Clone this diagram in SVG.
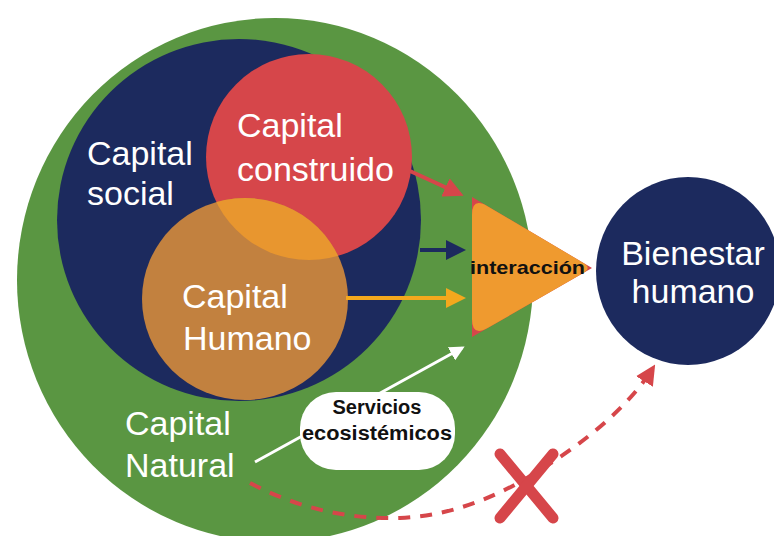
<svg xmlns="http://www.w3.org/2000/svg" width="774" height="536" viewBox="0 0 774 536">
<defs>
<style>
.lbl{font-family:"Liberation Sans",Arial,sans-serif;font-size:34px;fill:#fff}
.blk{font-family:"Liberation Sans",Arial,sans-serif;font-weight:bold;fill:#111}
</style>
<marker id="aRed" viewBox="0 0 10 10" refX="8" refY="5" markerWidth="5" markerHeight="5" orient="auto"><path d="M0,0 L10,5 L0,10 z" fill="#d6464a"/></marker>
<marker id="aNavy" viewBox="0 0 10 10" refX="8" refY="5" markerWidth="5" markerHeight="5" orient="auto"><path d="M0,0 L10,5 L0,10 z" fill="#1c2a5e"/></marker>
<marker id="aYel" viewBox="0 0 10 10" refX="8" refY="5" markerWidth="5" markerHeight="5" orient="auto"><path d="M0,0 L10,5 L0,10 z" fill="#f4a81d"/></marker>
<marker id="aWhite" viewBox="0 0 10 10" refX="8" refY="5" markerWidth="5" markerHeight="5" orient="auto"><path d="M0,0 L10,5 L0,10 z" fill="#fff"/></marker>
<marker id="aDash" viewBox="0 0 10 10" refX="8" refY="5" markerWidth="5" markerHeight="5" orient="auto"><path d="M0,0 L10,5 L0,10 z" fill="#d6464a"/></marker>
<clipPath id="cp"><circle cx="309" cy="157" r="103"/></clipPath>
</defs>
<rect width="774" height="536" fill="#fff"/>
<g id="capital-natural">
<ellipse cx="275" cy="280" rx="258" ry="262" fill="#5a9642"/>
<text class="lbl" x="125" y="435">Capital</text>
<text class="lbl" x="125" y="477">Natural</text>
</g>
<g id="capital-social">
<ellipse cx="239" cy="220" rx="182" ry="181" fill="#1c2a5e"/>
<text class="lbl" x="87" y="165">Capital</text>
<text class="lbl" x="87" y="205">social</text>
</g>
<g id="capital-construido">
<circle cx="309" cy="157" r="103" fill="#d6464a"/>
</g>
<g id="capital-humano">
<ellipse cx="245" cy="299" rx="103" ry="101" fill="#c2813f"/>
<ellipse cx="245" cy="299" rx="103" ry="101" fill="#e8962f" clip-path="url(#cp)"/>
<text class="lbl" x="182" y="308">Capital</text>
<text class="lbl" x="183" y="350">Humano</text>
</g>
<g id="construido-label">
<text class="lbl" x="237" y="137">Capital</text>
<text class="lbl" x="237" y="181">construido</text>
</g>
<g id="interaccion">
<path d="M472,197 L592,268 L472,337 Z" fill="#d6464a"/>
<path d="M472,215 Q472,197 487.5,206.2 L583.4,262.9 Q592,268 583.3,273 L487.6,328 Q472,337 472,319 Z" fill="#ef9a2f"/>
<text class="blk" x="470" y="274" font-size="19" textLength="115" lengthAdjust="spacingAndGlyphs">interacción</text>
</g>
<g id="bienestar">
<ellipse cx="688" cy="271" rx="92" ry="94" fill="#1c2a5e"/>
<text class="lbl" x="693" y="265" text-anchor="middle">Bienestar</text>
<text class="lbl" x="693" y="303" text-anchor="middle">humano</text>
</g>
<g id="connectors" fill="none">
<line x1="410" y1="171" x2="460" y2="194" stroke="#d6464a" stroke-width="4" marker-end="url(#aRed)"/>
<line x1="420" y1="250" x2="462" y2="250" stroke="#1c2a5e" stroke-width="4" marker-end="url(#aNavy)"/>
<line x1="346" y1="298" x2="462" y2="298" stroke="#f4a81d" stroke-width="4" marker-end="url(#aYel)"/>
<line x1="255" y1="462" x2="462" y2="348" stroke="#fff" stroke-width="3" marker-end="url(#aWhite)"/>
<path d="M250,483 Q320,520 400,518 Q470,515 540,470 Q620,420 653,368" stroke="#d6464a" stroke-width="4" stroke-dasharray="12,10" marker-end="url(#aDash)"/>
</g>
<g id="servicios">
<rect x="300" y="392" width="155" height="78" rx="36" fill="#fff"/>
<text class="blk" x="377" y="414" font-size="20" text-anchor="middle">Servicios</text>
<text class="blk" x="377" y="440" font-size="20" text-anchor="middle" textLength="150" lengthAdjust="spacingAndGlyphs">ecosistémicos</text>
</g>
<g id="cross" stroke="#d6464a" stroke-width="11" stroke-linecap="round">
<line x1="500" y1="454" x2="553" y2="518"/>
<line x1="553" y1="454" x2="500" y2="518"/>
</g>
</svg>
